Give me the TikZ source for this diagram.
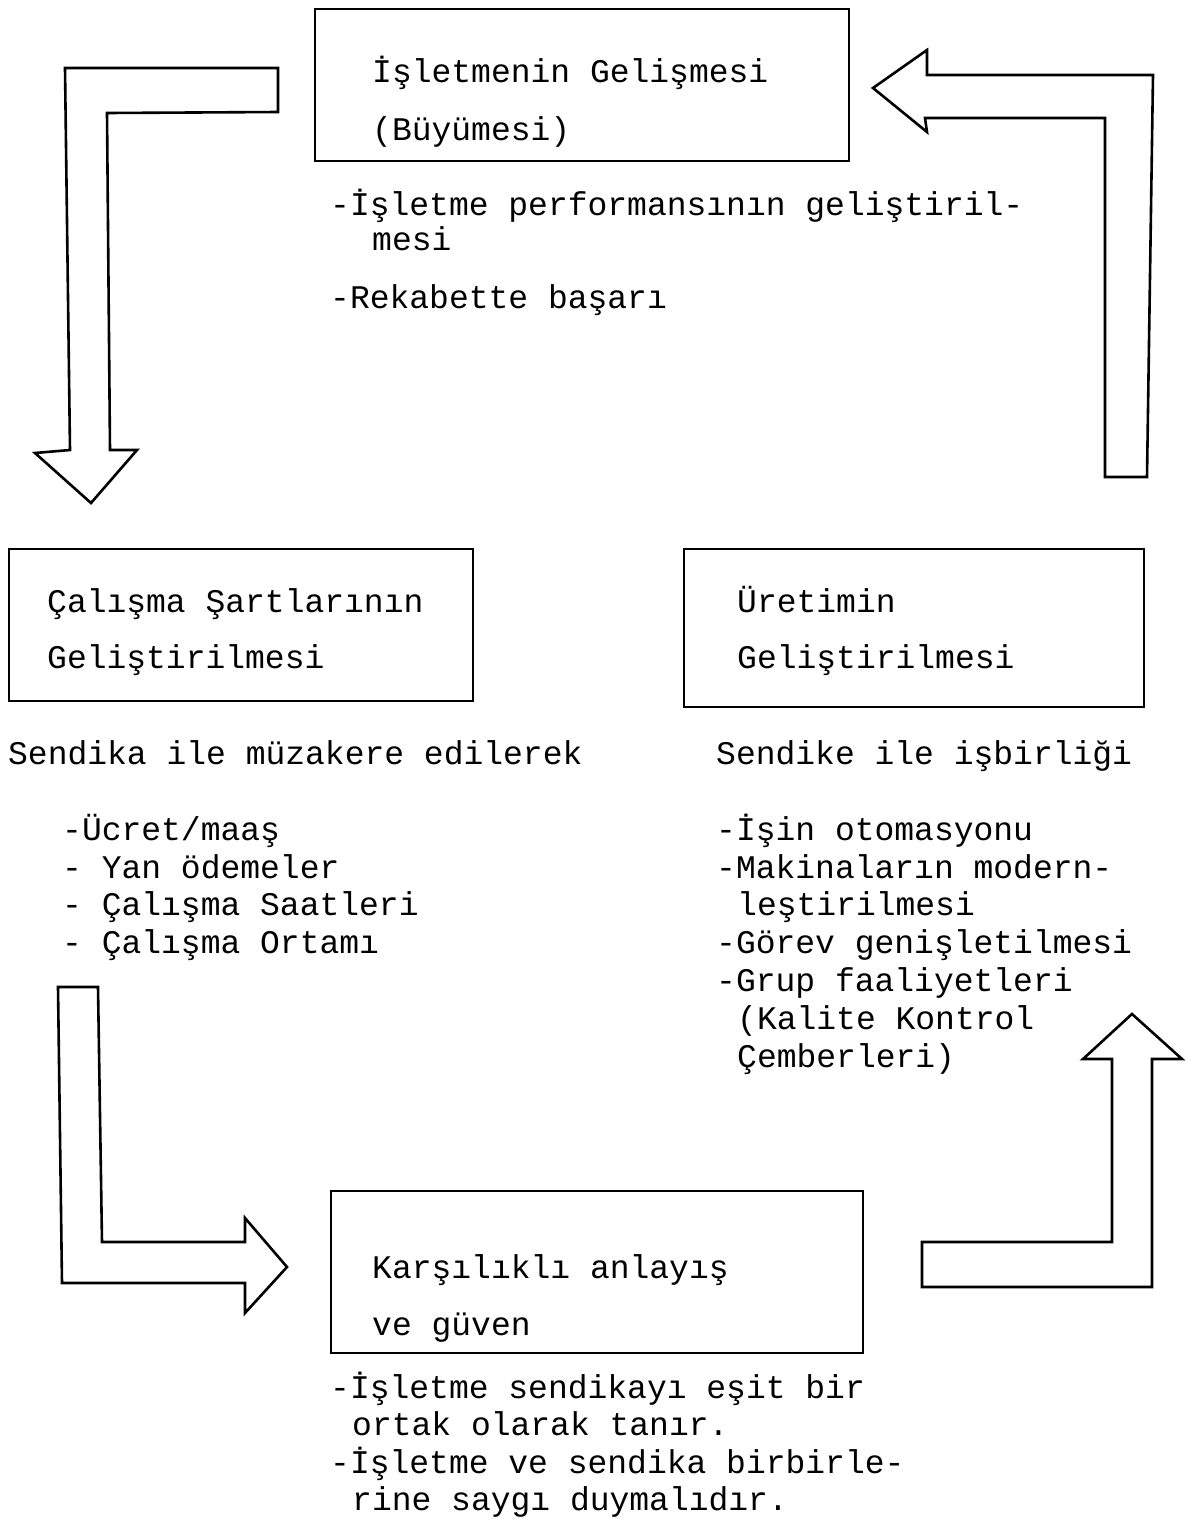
\documentclass[tikz,border=0pt]{standalone}
\usepackage{fontspec}
\setmonofont{Liberation Mono}
\begin{document}
\begin{tikzpicture}[x=1pt,y=-1pt,
  box/.style={draw, line width=1.6pt, anchor=north west, inner sep=0pt},
  txt/.style={anchor=base west, inner sep=0pt, font=\ttfamily\fontsize{33}{38}\selectfont},
  blockarrow/.style={draw, line width=2.6pt, line join=miter}]
\useasboundingbox (0,0) rectangle (1193,1519);

% boxes
\node[box, minimum width=534pt, minimum height=152pt] (grow) at (314,8) {};
\node[box, minimum width=464pt, minimum height=152pt] (work) at (8,548) {};
\node[box, minimum width=460pt, minimum height=158pt] (prod) at (683,548) {};
\node[box, minimum width=532pt, minimum height=162pt] (trust) at (330,1190) {};

% box titles
\node[txt] (g1) at (372,82) {İşletmenin Gelişmesi};
\node[txt] (g2) at (372,140) {(Büyümesi)};
\node[txt] (w1) at (47,612) {Çalışma Şartlarının};
\node[txt] (w2) at (47,668) {Geliştirilmesi};
\node[txt] (p1) at (737,612) {Üretimin};
\node[txt] (p2) at (737,668) {Geliştirilmesi};
\node[txt] (t1) at (372,1278) {Karşılıklı anlayış};
\node[txt] (t2) at (372,1335) {ve güven};

% notes under the top box
\node[txt] (gn1) at (330,215) {-İşletme performansının geliştiril-};
\node[txt] (gn2) at (372,250) {mesi};
\node[txt] (gn3) at (330,308) {-Rekabette başarı};

% notes under the left box
\node[txt] (wn0) at (8,764) {Sendika ile müzakere edilerek};
\node[txt] (wn1) at (62,840) {-Ücret/maaş};
\node[txt] (wn2) at (62,878) {- Yan ödemeler};
\node[txt] (wn3) at (62,915) {- Çalışma Saatleri};
\node[txt] (wn4) at (62,953) {- Çalışma Ortamı};

% notes under the right box
\node[txt] (pn0) at (716,764) {Sendike ile işbirliği};
\node[txt] (pn1) at (716,840) {-İşin otomasyonu};
\node[txt] (pn2) at (716,878) {-Makinaların modern-};
\node[txt] (pn3) at (737,915) {leştirilmesi};
\node[txt] (pn4) at (716,953) {-Görev genişletilmesi};
\node[txt] (pn5) at (716,991) {-Grup faaliyetleri};
\node[txt] (pn6) at (737,1029) {(Kalite Kontrol};
\node[txt] (pn7) at (737,1067) {Çemberleri)};

% notes under the bottom box
\node[txt] (tn1) at (330,1398) {-İşletme sendikayı eşit bir};
\node[txt] (tn2) at (352,1435) {ortak olarak tanır.};
\node[txt] (tn3) at (330,1473) {-İşletme ve sendika birbirle-};
\node[txt] (tn4) at (352,1510) {rine saygı duymalıdır.};

% block arrow: growth -> working conditions
\draw[blockarrow] (65,68) -- (278,68) -- (278,112) -- (107,113) -- (110,450)
  -- (137,450) -- (91,503) -- (35,453) -- (70,450) -- cycle;

% block arrow: production -> growth
\draw[blockarrow] (1153,75) -- (1147,477) -- (1105,477) -- (1105,118)
  -- (925,118) -- (927,132) -- (873,88) -- (927,50) -- (927,75) -- cycle;

% block arrow: working conditions -> mutual trust
\draw[blockarrow] (58,987) -- (98,987) -- (102,1242) -- (245,1242)
  -- (245,1218) -- (287,1267) -- (245,1313) -- (245,1283) -- (62,1283) -- cycle;

% block arrow: mutual trust -> production
\draw[blockarrow] (922,1242) -- (1112,1242) -- (1112,1059) -- (1083,1059)
  -- (1132,1014) -- (1182,1059) -- (1152,1059) -- (1152,1287) -- (922,1287) -- cycle;
\end{tikzpicture}
\end{document}
